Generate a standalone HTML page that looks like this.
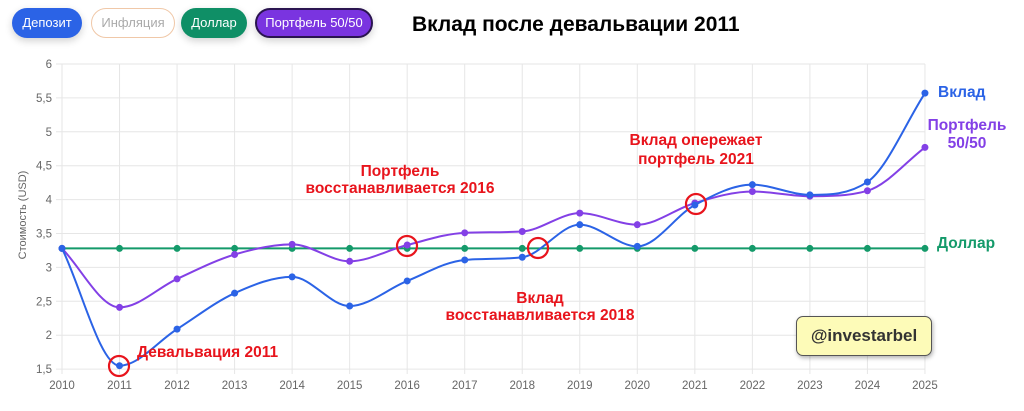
<!DOCTYPE html>
<html><head><meta charset="utf-8"><style>
body{margin:0;width:1024px;height:411px;background:#fff;overflow:hidden;font-family:"Liberation Sans","DejaVu Sans",sans-serif}
.btn{position:absolute;top:8px;height:30px;border-radius:15px;font-size:13px;line-height:30px;text-align:center;box-shadow:0 3px 8px rgba(0,0,0,.18)}
</style></head><body>
<div class="btn" style="left:12px;width:70px;background:#2b63e6;color:#fff">Депозит</div>
<div class="btn" style="left:91px;width:82px;background:#fff;color:#aaa;border:1px solid #f0c8a8;height:28px;line-height:28px;box-shadow:none">Инфляция</div>
<div class="btn" style="left:181px;width:66px;background:#0f8f66;color:#fff">Доллар</div>
<div class="btn" style="left:255px;width:114px;background:#7a34e0;color:#fff;border:2px solid #2a1450;height:26px;line-height:26px">Портфель 50/50</div>
<div style="position:absolute;left:412px;top:13px;font-size:21px;font-weight:bold;color:#000">Вклад после девальвации 2011</div>
<svg id="s" width="1024" height="411" style="position:absolute;left:0;top:0"></svg>
<div style="position:absolute;left:796px;top:316px;width:134px;height:38px;background:#fdfbb8;border:1.5px solid #555;border-radius:7px;box-shadow:1px 2px 4px rgba(0,0,0,.3);font-size:17px;font-weight:bold;color:#333;text-align:center;line-height:38px">@investarbel</div>
<script>
const X=i=>62+i*57.53, Y=v=>64+(6-v)*67.8;
let h='';
for(let i=0;i<16;i++){h+=`<line x1="${X(i)}" y1="64" x2="${X(i)}" y2="374" stroke="#e6e6e6"/>`;h+=`<text x="${X(i)}" y="389" font-size="11.5" fill="#666" text-anchor="middle">${2010+i}</text>`;}
for(let k=0;k<=9;k++){let v=1.5+k*0.5;h+=`<line x1="56" y1="${Y(v)}" x2="925" y2="${Y(v)}" stroke="#e6e6e6"/>`;h+=`<text x="52" y="${Y(v)+4}" font-size="11.5" fill="#666" text-anchor="end">${String(v).replace('.',',')}</text>`;}
h+=`<text transform="translate(26,215) rotate(-90)" font-size="11" fill="#666" text-anchor="middle">Стоимость (USD)</text>`;
function path(d,c){let p=d.map((v,i)=>[X(i),Y(v)]);let n=p.length,dx=57.53;
let del=[];for(let i=0;i<n-1;i++)del.push((p[i+1][1]-p[i][1])/dx);
let m=[del[0]];for(let i=1;i<n-1;i++){m.push(del[i-1]*del[i]<=0?0:(del[i-1]+del[i])/2);}m.push(del[n-2]);
for(let i=0;i<n-1;i++){if(del[i]==0){m[i]=m[i+1]=0;continue;}let a=m[i]/del[i],b=m[i+1]/del[i],s=a*a+b*b;if(s>9){let t=3/Math.sqrt(s);m[i]=t*a*del[i];m[i+1]=t*b*del[i];}}
let s=`M${p[0]}`;for(let i=0;i<n-1;i++){s+=` C${p[i][0]+dx/3},${p[i][1]+m[i]*dx/3} ${p[i+1][0]-dx/3},${p[i+1][1]-m[i+1]*dx/3} ${p[i+1]}`;}
let o=`<path d="${s}" fill="none" stroke="${c}" stroke-width="2"/>`;p.forEach(q=>o+=`<circle cx="${q[0]}" cy="${q[1]}" r="3.5" fill="${c}"/>`);return o;}
h+=path(Array(16).fill(3.28),'#149a6a');
h+=path([3.28,2.41,2.83,3.19,3.34,3.09,3.33,3.51,3.53,3.80,3.63,3.95,4.12,4.05,4.13,4.77],'#8340e6');
h+=path([3.28,1.55,2.09,2.62,2.86,2.43,2.80,3.11,3.15,3.63,3.31,3.92,4.22,4.07,4.26,5.57],'#2b63e6');
[[119,366],[407,246],[538,248],[696,204]].forEach(c=>h+=`<circle cx="${c[0]}" cy="${c[1]}" r="10" fill="none" stroke="#e8141c" stroke-width="2.2"/>`);
const L=(x,y,t,c,a='middle')=>`<text x="${x}" y="${y}" font-size="15.5" font-weight="bold" fill="${c}" text-anchor="${a}">${t}</text>`;
h+=L(137,357,'Девальвация 2011','#e8141c','start');
h+=L(400,176,'Портфель','#e8141c')+L(400,193,'восстанавливается 2016','#e8141c');
h+=L(540,303,'Вклад','#e8141c')+L(540,320,'восстанавливается 2018','#e8141c');
h+=L(696,145,'Вклад опережает','#e8141c')+L(696,164,'портфель 2021','#e8141c');
h+=L(938,97,'Вклад','#2b63e6','start');
h+=L(967,130,'Портфель','#8340e6')+L(967,148,'50/50','#8340e6');
h+=L(937,248,'Доллар','#149a6a','start');
document.getElementById('s').innerHTML=h;
</script>
</body></html>
